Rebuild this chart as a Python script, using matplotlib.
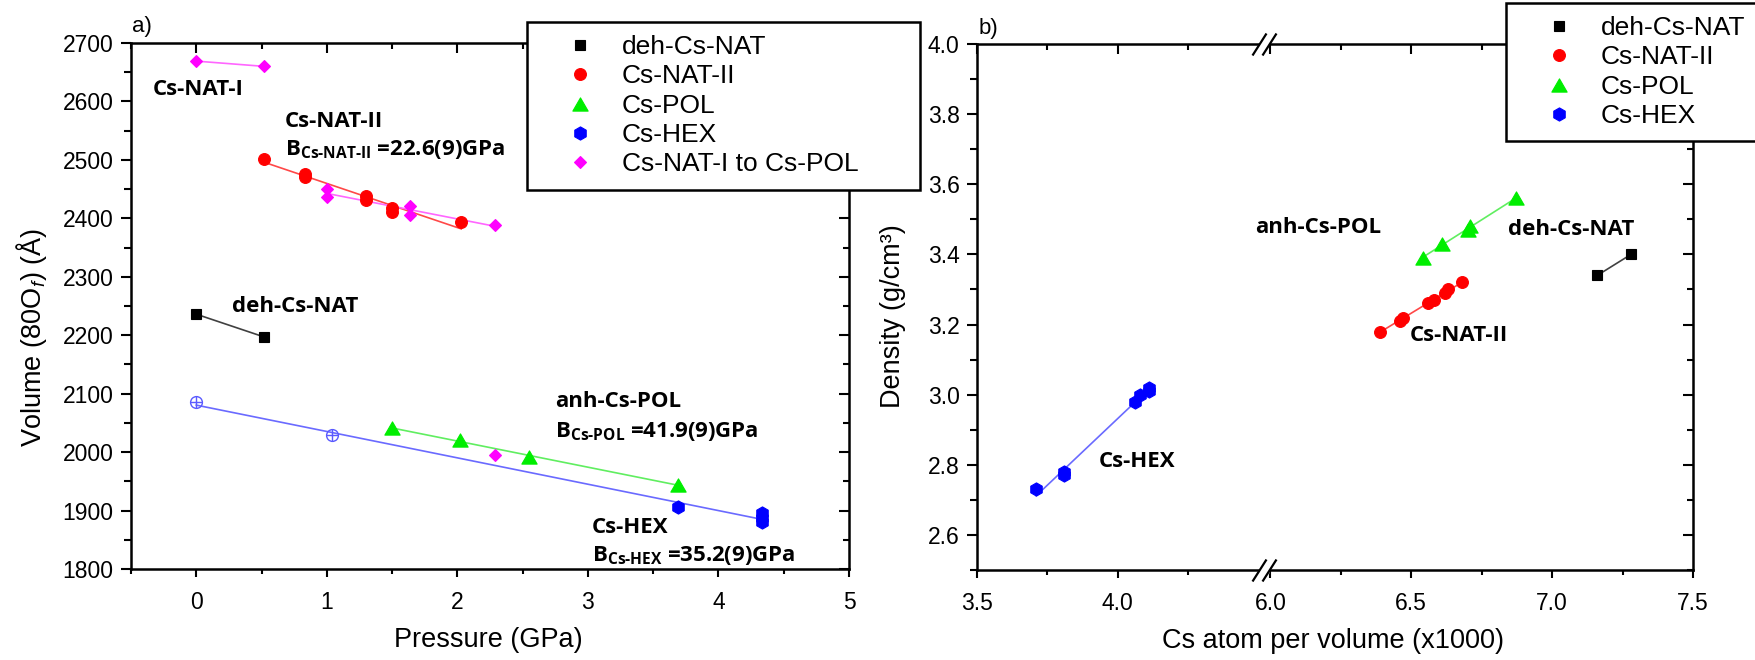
import numpy as np
import matplotlib
matplotlib.use('Agg')
import matplotlib.pyplot as plt
from matplotlib.path import Path
from matplotlib.transforms import blended_transform_factory
from matplotlib.ticker import MultipleLocator, FixedLocator, FormatStrFormatter

plt.rcParams['font.family'] = ['Liberation Sans', 'DejaVu Sans']
plt.rcParams['mathtext.fontset'] = 'custom'
plt.rcParams['mathtext.rm'] = 'Open Sans:bold'
plt.rcParams['mathtext.bf'] = 'Open Sans:bold'
plt.rcParams['mathtext.it'] = 'Liberation Sans:italic'

# ---------------- Panel a) : Pressure (GPa) vs Volume ----------------
deh_p = [0.00, 0.52]
deh_v = [2236, 2197]
nat2_p = [0.52, 0.83, 0.83, 1.30, 1.30, 1.50, 1.50, 2.03]
nat2_v = [2502, 2476, 2471, 2439, 2431, 2417, 2411, 2394]
pol_p = [1.50, 2.02, 2.55, 3.69]
pol_v = [2041, 2020, 1992, 1944]
hex_open_p = [0.00, 1.04]
hex_open_v = [2085, 2029]
hex_p = [3.69, 4.33, 4.33, 4.33]
hex_v = [1906, 1895, 1888, 1880]
nat1_p = [0.00, 0.52]
nat1_v = [2669, 2660]
trans_p = [1.00, 1.00, 1.64, 1.64, 2.29]
trans_v = [2450, 2437, 2421, 2405, 2388]
trans_pol_p = [2.29]
trans_pol_v = [1995]

# ---------------- Panel b) : Cs atom per volume vs density ----------------
b_deh_x = [7.16, 7.28]
b_deh_y = [3.34, 3.40]
b_nat2_x = [6.39, 6.46, 6.47, 6.56, 6.58, 6.62, 6.63, 6.68]
b_nat2_y = [3.18, 3.21, 3.22, 3.26, 3.27, 3.29, 3.30, 3.32]
b_pol_x = [6.54, 6.61, 6.70, 6.71, 6.87]
b_pol_y = [3.39, 3.43, 3.47, 3.48, 3.56]
b_hex_x = [3.71, 3.81, 3.81, 4.06, 4.08, 4.11, 4.11]
b_hex_y = [2.73, 2.77, 2.78, 2.98, 3.00, 3.01, 3.02]

b_xticks = [3.5, 4.0, 6.0, 6.5, 7.0, 7.5]
b_xminor = [3.75, 4.25, 6.25, 6.75, 7.25]

legend_labels = ['deh-Cs-NAT', 'Cs-NAT-II', 'Cs-POL', 'Cs-HEX', 'Cs-NAT-I to Cs-POL']

# colours
C_BLK, C_RED, C_GRN, C_BLU, C_MAG = '#000000', '#ff0000', '#00ee00', '#0000ff', '#ff00ff'
L_BLK, L_RED, L_GRN, L_BLU, L_MAG = '#404040', '#ff4848', '#60ee60', '#6a6aff', '#ff66ff'

TRI = Path([(-1, -0.866), (1, -0.866), (0, 0.866), (-1, -0.866)], closed=True)
MS = dict(s=7.0, o=8.5, tri=11.0, h=9.5, D=6.6)

fig = plt.figure(figsize=(17.55, 6.6), dpi=100)
axa = fig.add_axes([131/1755, 1-569/660, 718/1755, 526/660])
axb = fig.add_axes([977/1755, 1-570/660, 716/1755, 526/660])


def fit_line(ax, x, y, color):
    k, b = np.polyfit(x, y, 1)
    xs = np.array([min(x), max(x)])
    ax.plot(xs, k*xs + b, '-', color=color, lw=1.2, zorder=2)


def markers(ax, x, y, marker, color, ms):
    return ax.plot(x, y, linestyle='none', marker=marker, ms=ms, mfc=color,
                   mec=color, mew=0.8, zorder=3)[0]


def base_style(ax):
    for s in ax.spines.values():
        s.set_linewidth(1.8)
    ax.tick_params(which='both', direction='out', width=1.5, labelsize=16.5,
                   top=False, right=False)
    ax.tick_params(axis='x', which='major', length=5.5, pad=10)
    ax.tick_params(axis='x', which='minor', length=3.5)
    ax.tick_params(axis='y', which='major', length=7.5, pad=5)
    ax.tick_params(axis='y', which='minor', length=5)


# ---------------- panel a ----------------
ax = axa
ax.plot(deh_p, deh_v, '-', color=L_BLK, lw=1.2, zorder=2)
ax.plot(nat1_p, nat1_v, '-', color=L_MAG, lw=1.2, zorder=2)
fit_line(ax, nat2_p, nat2_v, L_RED)
fit_line(ax, pol_p, pol_v, L_GRN)
fit_line(ax, hex_open_p + hex_p, hex_open_v + hex_v, L_BLU)
fit_line(ax, trans_p, trans_v, L_MAG)

h_deh = markers(ax, deh_p, deh_v, 's', C_BLK, MS['s'])
h_nat2 = markers(ax, nat2_p, nat2_v, 'o', C_RED, MS['o'])
h_pol = markers(ax, pol_p, pol_v, TRI, C_GRN, MS['tri'])
h_hex = markers(ax, hex_p, hex_v, 'h', C_BLU, MS['h'])
h_mag = markers(ax, nat1_p, nat1_v, 'D', C_MAG, MS['D'])
markers(ax, trans_p, trans_v, 'D', C_MAG, MS['D'])
markers(ax, trans_pol_p, trans_pol_v, 'D', C_MAG, MS['D'])
ax.plot(hex_open_p, hex_open_v, linestyle='none', marker='o', ms=8.5, mfc='none',
        mec='#5a5aff', mew=1.0, zorder=3)
ax.plot(hex_open_p, hex_open_v, linestyle='none', marker='+', ms=8.5,
        mec='#5a5aff', mew=1.0, zorder=3)

ax.set_xlim(-0.5, 5)
ax.set_ylim(1800, 2700)
base_style(ax)
ax.xaxis.set_major_locator(MultipleLocator(1))
ax.xaxis.set_minor_locator(MultipleLocator(0.5))
ax.yaxis.set_major_locator(MultipleLocator(100))
ax.yaxis.set_minor_locator(MultipleLocator(50))
ax.set_xlabel('Pressure (GPa)', fontsize=19.5, va='center')
ax.xaxis.set_label_coords(0.498, (569-640)/526)
ax.set_ylabel(r'Volume (80O$_{\mathit{f}}$) (Å)', fontsize=19.5, va='center', ha='center')
ax.yaxis.set_label_coords((32-131)/718, (569-337)/526)

ann_font = dict(fontfamily=['Open Sans', 'DejaVu Sans'], fontweight='bold',
                fontsize=16, ha='left', va='baseline', zorder=4)
ax.text(-0.33, 2611, 'Cs-NAT-I', **ann_font)
ax.text(0.68, 2556, 'Cs-NAT-II', **ann_font)
ax.text(0.68, 2508, r'B$_{\text{Cs-NAT-II}}$ =22.6(9)GPa', **ann_font)
ax.text(0.27, 2240, 'deh-Cs-NAT', **ann_font)
ax.text(2.75, 2077, 'anh-Cs-POL', **ann_font)
ax.text(2.75, 2026, r'B$_{\text{Cs-POL}}$ =41.9(9)GPa', **ann_font)
ax.text(3.03, 1862, 'Cs-HEX', **ann_font)
ax.text(3.03, 1814, r'B$_{\text{Cs-HEX}}$ =35.2(9)GPa', **ann_font)

# inward ticks on top / right
t = ax.twiny()
t.set_xlim(ax.get_xlim())
t.xaxis.set_major_locator(MultipleLocator(1))
t.xaxis.set_minor_locator(MultipleLocator(0.5))
t.tick_params(which='both', direction='in', width=1.5, labeltop=False)
t.tick_params(which='major', length=7)
t.tick_params(which='minor', length=4.5)
for s in t.spines.values():
    s.set_visible(False)
r = ax.twinx()
r.set_ylim(ax.get_ylim())
r.yaxis.set_major_locator(MultipleLocator(100))
r.yaxis.set_minor_locator(MultipleLocator(50))
r.tick_params(which='both', direction='in', width=1.5, labelright=False)
r.tick_params(which='major', length=7)
r.tick_params(which='minor', length=4.5)
for s in r.spines.values():
    s.set_visible(False)

# ---------------- panel b ----------------
BRK_LO, BRK_HI, EPS = 4.52, 5.98, 1e-3
GAP = BRK_HI - BRK_LO


def fwd(x):
    x = np.asarray(x, dtype=float)
    return np.where(x <= BRK_LO, x,
                    np.where(x >= BRK_HI, x - GAP + GAP*EPS, BRK_LO + (x - BRK_LO)*EPS))


def inv(u):
    u = np.asarray(u, dtype=float)
    top = BRK_LO + GAP*EPS
    return np.where(u <= BRK_LO, u,
                    np.where(u >= top, u + GAP - GAP*EPS, BRK_LO + (u - BRK_LO)/EPS))


ax = axb
ax.set_xscale('function', functions=(fwd, inv))
ax.plot(b_deh_x, b_deh_y, '-', color=L_BLK, lw=1.2, zorder=2)
fit_line(ax, b_nat2_x, b_nat2_y, L_RED)
fit_line(ax, b_pol_x, b_pol_y, L_GRN)
fit_line(ax, b_hex_x, b_hex_y, L_BLU)
hb_deh = markers(ax, b_deh_x, b_deh_y, 's', C_BLK, MS['s'])
hb_nat2 = markers(ax, b_nat2_x, b_nat2_y, 'o', C_RED, MS['o'])
hb_pol = markers(ax, b_pol_x, b_pol_y, TRI, C_GRN, MS['tri'])
hb_hex = markers(ax, b_hex_x, b_hex_y, 'h', C_BLU, MS['h'])

ax.set_xlim(3.5, 7.5)
ax.set_ylim(2.5, 4.0)
base_style(ax)
ax.xaxis.set_major_locator(FixedLocator(b_xticks))
ax.xaxis.set_minor_locator(FixedLocator(b_xminor))
ax.xaxis.set_major_formatter(FormatStrFormatter('%.1f'))
ax.yaxis.set_major_locator(FixedLocator(np.arange(2.6, 4.01, 0.2)))
ax.yaxis.set_minor_locator(MultipleLocator(0.1))
ax.yaxis.set_major_formatter(FormatStrFormatter('%.1f'))
ax.set_xlabel('Cs atom per volume (x1000)', fontsize=19.5, va='center')
ax.xaxis.set_label_coords((1333-977)/716, (570-641)/526)
ax.set_ylabel('Density (g/cm³)', fontsize=19.5, va='center', ha='center')
ax.yaxis.set_label_coords((893-977)/716, (570-316)/526)

ann_b = dict(ann_font)
ann_b['transform'] = ax.transAxes
ax.text(0.389, 0.640, 'anh-Cs-POL', **ann_b)
ax.text(0.741, 0.637, 'deh-Cs-NAT', **ann_b)
ax.text(0.605, 0.435, 'Cs-NAT-II', **ann_b)
ax.text(0.170, 0.195, 'Cs-HEX', **ann_b)

t = ax.twiny()
t.set_xscale('function', functions=(fwd, inv))
t.set_xlim(3.5, 7.5)
t.xaxis.set_major_locator(FixedLocator(b_xticks))
t.xaxis.set_minor_locator(FixedLocator(b_xminor))
t.tick_params(which='both', direction='in', width=1.5, labeltop=False)
t.tick_params(which='major', length=7)
t.tick_params(which='minor', length=4.5)
for s in t.spines.values():
    s.set_visible(False)
r = ax.twinx()
r.set_ylim(ax.get_ylim())
r.yaxis.set_major_locator(FixedLocator(np.arange(2.6, 4.01, 0.2)))
r.yaxis.set_minor_locator(MultipleLocator(0.1))
r.tick_params(which='both', direction='in', width=1.5, labelright=False)
r.tick_params(which='major', length=7)
r.tick_params(which='minor', length=4.5)
for s in r.spines.values():
    s.set_visible(False)

# axis-break marks on bottom and top spines
brk_tr = blended_transform_factory(ax.transData, ax.transAxes)
gap_mark = Path([(-5, -3), (5, -3), (5, 3), (-5, 3), (-5, -3)], closed=True)
slash_mark = Path([(-12, -11), (2, 11), (-2, -11), (12, 11)],
                  [Path.MOVETO, Path.LINETO, Path.MOVETO, Path.LINETO])
for yv in (0.0, 1.0):
    ax.plot([BRK_LO], [yv], transform=brk_tr, marker=gap_mark, ms=10*0.72,
            mfc='white', mec='none', linestyle='none', clip_on=False, zorder=10)
    ax.plot([BRK_LO], [yv], transform=brk_tr, marker=slash_mark, ms=24*0.72,
            mfc='none', mec='black', mew=1.6, linestyle='none', clip_on=False, zorder=11)

# panel letters
fig.text(132/1755, 1-32/660, 'a)', fontsize=16, va='baseline', ha='left')
fig.text(979/1755, 1-34/660, 'b)', fontsize=16, va='baseline', ha='left')

# legends
leg_kw = dict(loc='upper left', mode='expand', fontsize=19, frameon=True, fancybox=False,
              edgecolor='black', framealpha=1, borderpad=0.5, handlelength=3.0,
              handletextpad=0.1, labelspacing=0.2, borderaxespad=0)
la = fig.legend([h_deh, h_nat2, h_pol, h_hex, h_mag], legend_labels,
                bbox_to_anchor=(527/1755, 1-187/660, 393/1755, 165/660), **leg_kw)
la.get_frame().set_linewidth(1.8)
lb = fig.legend([hb_deh, hb_nat2, hb_pol, hb_hex], legend_labels[:4],
                bbox_to_anchor=(1506/1755, 1-137/660, 260/1755, 134/660), **leg_kw)
lb.get_frame().set_linewidth(1.8)

fig.savefig('out.png', dpi=100)
